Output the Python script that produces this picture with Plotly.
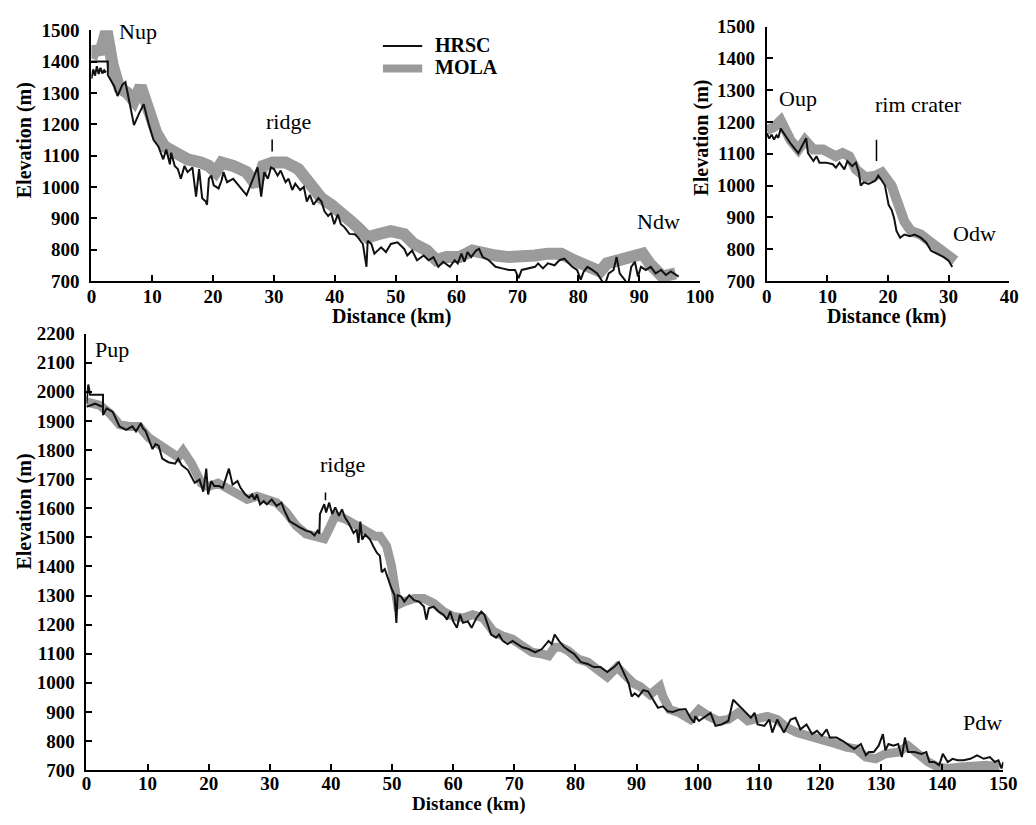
import plotly.graph_objects as go

# ---------------- data ----------------
# Panel N (top-left)
n_hrsc_km = [0.0, 0.3, 0.6, 0.9, 1.2, 1.5, 1.8, 2.1, 2.4, None,
             0.0, 2.7, 2.7, 3.75, 4.3, 5.1, 5.6, 6.4, 7.0, 7.8, 8.6, 9.4, 10.2, 11.0, 11.8, 12.3, 12.9, 13.1,
             13.7, 14.2, 14.7, 15.3, 15.8, 16.6, 17.2, 17.7, 18.2, 18.8, 19.0, 19.3, 19.7, 20.1, 20.9, 21.4,
             21.7, 22.3, 23.3, 25.5, 27.3, 27.9, 28.4, 29.0, 29.5, 30.0, 30.6, 31.1, 31.9, 32.4, 33.0, 33.5,
             34.3, 34.9, 35.4, 35.9, 36.5, 37.3, 37.8, 38.3, 38.9, 39.4, 39.9, 40.5, 41.0, 41.6, 42.4, 43.3,
             43.8, 44.6, 45.2, 45.4, 46.0, 46.5, 47.6, 48.4, 49.2, 50.3, 51.4, 51.9, 52.7, 53.5, 54.6, 55.4,
             56.2, 57.0, 57.8, 58.9, 59.7, 60.2, 60.8, 61.3, 61.8, 62.4, 63.2, 63.7, 64.3, 65.3, 66.4, 67.5,
             68.6, 69.6, 70.2, 70.7, 71.8, 72.9, 73.4, 74.2, 75.0, 76.1, 76.9, 77.7, 78.2, 79.0, 79.8, 80.4,
             80.9, 81.5, 82.3, 83.1, 83.9, 84.4, 85.0, 85.8, 86.3, 86.8, 87.6, 88.2, 88.7, 89.3, 89.8, 90.3,
             91.1, 91.9, 92.7, 93.6, 94.4, 95.2, 96.5]
n_hrsc_m = [1345, 1375, 1355, 1385, 1360, 1380, 1362, 1372, 1365, None,
            1400, 1400, 1357, 1321, 1290, 1326, 1334, 1254, 1197, 1233, 1264, 1202, 1150, 1129, 1088, 1119, 1072, 1109,
            1067, 1057, 1026, 1067, 1047, 1062, 969, 1057, 964, 953, 943, 1026, 1036, 1005, 995, 1021,
            1047, 1015, 1026, 974, 1062, 969, 1047, 1026, 1062, 1057, 1036, 1052, 1015, 1026, 990, 1010,
            990, 1000, 953, 974, 943, 964, 953, 922, 907, 917, 881, 912, 881, 871, 850, 849,
            839, 818, 745, 828, 818, 787, 807, 792, 818, 823, 802, 781, 797, 766, 781, 766,
            776, 745, 761, 745, 766, 756, 787, 761, 792, 776, 797, 802, 776, 766, 745, 740,
            735, 735, 709, 735, 740, 745, 756, 740, 756, 750, 766, 771, 761, 745, 735, 704,
            730, 745, 735, 724, 700, 690, 724, 735, 776, 724, 704, 688, 745, 761, 714, 745,
            735, 745, 724, 735, 719, 730, 714]
n_mola_km = [0.0, 0.7, 1.4, 1.9, 2.5, 3.5, 4.6, 5.9, 7.0, 8.1, 9.4, 10.7, 12.0, 13.7, 15.8, 18.0, 19.3, 20.4,
             21.4, 23.3, 25.5, 27.1, 28.2, 29.8, 31.9, 34.0, 36.2, 37.8, 39.4, 41.0, 42.6, 43.8, 45.4, 47.1,
             49.2, 51.4, 53.0, 55.1, 56.7, 58.3, 60.5, 62.6, 64.3, 66.4, 68.6, 70.7, 72.9, 75.0, 77.2, 79.3,
             81.5, 83.6, 84.7, 86.8, 89.0, 90.6, 91.7, 93.8, 96.0]
n_mola_m = [1410, 1445, 1425, 1460, 1500, 1388, 1316, 1300, 1274, 1321, 1243, 1171, 1129, 1109, 1088, 1078, 1067, 1047,
            1078, 1067, 1047, 1005, 1067, 1078, 1078, 1057, 1005, 964, 943, 922, 891, 870, 839, 849,
            859, 849, 818, 797, 766, 776, 776, 797, 787, 781, 776, 776, 781, 787, 787, 766,
            745, 730, 756, 766, 776, 787, 756, 714, 724]

# Panel O (top-right)
o_hrsc_km = [0.0, 0.4, 0.8, 1.2, 1.6, 1.9, 2.3, 3.9, 5.2, 6.0, 6.5, 6.8, 7.7, 8.2, 8.7, 9.8, 10.9, 11.4, 12.0,
             12.8, 13.3, 14.1, 14.7, 15.2, 15.5, 16.0, 16.8, 17.9, 18.4, 19.0, 19.5, 20.1, 20.6, 21.0, 21.4,
             22.0, 22.7, 23.6, 24.4, 25.4, 26.3, 27.1, 28.1, 29.2, 30.0, 30.6]
o_hrsc_m = [1165, 1148, 1160, 1145, 1158, 1150, 1179, 1133, 1102, 1133, 1149, 1102, 1077, 1092, 1072, 1072, 1067, 1056, 1072,
            1051, 1077, 1061, 1072, 1041, 1000, 1010, 1005, 1015, 1031, 1015, 1000, 939, 923, 898, 857,
            836, 846, 841, 846, 836, 821, 795, 785, 775, 764, 744]
o_mola_km = [0.0, 1.2, 2.3, 3.9, 5.2, 6.3, 7.7, 9.3, 10.4, 11.4, 12.5, 13.6, 14.7, 16.3, 17.9, 19.0, 20.6, 21.9,
             22.7, 23.8, 25.4, 27.1, 28.7, 30.3, 31.1]
o_mola_m = [1174, 1184, 1205, 1143, 1113, 1143, 1113, 1113, 1102, 1092, 1102, 1092, 1051, 1026, 1031, 1041, 1000, 939,
            887, 857, 846, 821, 795, 775, 764]

# Panel P (bottom)
p_hrsc_km = [0.0, 1.4, 2.2, 2.7, None,
             0.0, 0.3, 0.6, 2.7, 2.7, 3.3, 4.3, 5.4, 6.5, 7.5, 8.1, 8.9, 9.2, 9.7, 10.8, 11.3, 11.8, 12.4, 13.4,
             14.5, 15.0, 15.6, 16.6, 17.7, 18.5, 19.1, 19.6, 19.9, 20.4, 20.9, 21.7, 22.3, 23.3, 23.9, 24.7,
             25.2, 26.0, 26.6, 27.1, 27.5, 27.9, 28.4, 29.0, 29.5, 30.3, 31.1, 31.9, 32.4, 33.2, 34.0, 34.9,
             35.9, 36.7, 37.3, 37.8, 38.1, 38.2, 38.9, 39.2, 39.7, 40.2, 40.7, 41.3, 41.8, 42.3, 42.9, 43.7,
             44.2, 44.5, 44.8, 45.1, 45.6, 46.4, 46.9, 47.5, 48.0, 48.3, 48.8, 49.3, 49.9, 50.4, 50.7, 50.9,
             51.5, 52.0, 52.8, 53.6, 54.4, 55.2, 55.6, 56.0, 56.8, 57.6, 58.4, 59.0, 59.5, 60.0, 60.6, 61.1,
             61.6, 62.4, 63.0, 63.8, 64.6, 65.1, 65.7, 66.2, 67.0, 67.5, 68.1, 68.9, 69.7, 70.5, 71.3, 72.3,
             73.4, 74.5, 75.6, 76.1, 76.6, 77.3, 78.2, 79.0, 79.8, 80.9, 82.0, 83.0, 84.1, 85.2, 86.3, 87.1,
             87.9, 88.7, 89.2, 89.7, 90.3, 91.1, 91.9, 92.7, 93.5, 94.3, 95.1, 95.9, 97.0, 98.0, 98.8, 99.4,
             99.6, 100.2, 101.0, 102.1, 102.9, 103.9, 105.0, 105.8, 108.7, 109.3, 109.8, 110.9, 111.7, 112.2,
             113.0, 114.1, 115.2, 116.0, 116.8, 117.8, 118.7, 119.5, 120.3, 121.1, 121.6, 122.7, 123.7, 124.5,
             125.6, 126.7, 127.5, 128.0, 128.8, 129.6, 130.3, 130.7, 131.2, 132.0, 132.8, 133.4, 133.9, 134.4,
             135.5, 136.6, 137.4, 137.9, 138.7, 139.5, 140.1, 140.9, 141.7, 142.5, 143.5, 144.6, 145.7, 146.8,
             147.8, 148.6, 149.2, 149.7, 150.0]
p_hrsc_m = [1948, 1959, 1952, 1948, None,
            1960, 2025, 1990, 1990, 1920, 1943, 1931, 1881, 1869, 1881, 1864, 1892, 1876, 1864, 1803, 1820, 1815, 1770, 1758,
            1753, 1770, 1747, 1731, 1687, 1698, 1657, 1736, 1647, 1693, 1676, 1676, 1670, 1736, 1681, 1693,
            1670, 1647, 1636, 1647, 1630, 1647, 1613, 1624, 1613, 1630, 1608, 1619, 1591, 1556, 1545, 1534,
            1523, 1518, 1506, 1523, 1512, 1580, 1614, 1585, 1619, 1580, 1603, 1574, 1596, 1568, 1548, 1515,
            1526, 1481, 1554, 1492, 1509, 1492, 1470, 1447, 1436, 1380, 1391, 1357, 1324, 1301, 1206, 1301,
            1296, 1279, 1301, 1284, 1279, 1262, 1217, 1256, 1262, 1245, 1234, 1217, 1245, 1211, 1189, 1234,
            1206, 1211, 1189, 1223, 1245, 1234, 1200, 1166, 1155, 1166, 1144, 1133, 1144, 1133, 1122, 1116,
            1105, 1116, 1144, 1133, 1166, 1144, 1122, 1110, 1099, 1071, 1065, 1054, 1054, 1037, 1054, 1071,
            1032, 998, 953, 964, 953, 975, 970, 942, 914, 919, 902, 900, 908, 910, 880, 863,
            885, 869, 880, 897, 852, 857, 869, 942, 880, 897, 857, 852, 874, 829,
            874, 829, 874, 880, 840, 857, 824, 835, 818, 840, 812, 812, 801, 790,
            773, 790, 751, 762, 762, 784, 824, 768, 790, 784, 790, 745, 812, 762,
            762, 756, 762, 728, 728, 717, 756, 728, 739, 734, 734, 739, 751, 739,
            745, 728, 734, 706, 728]
p_mola_km = [0.0, 2.2, 3.8, 5.4, 7.0, 8.6, 10.2, 11.8, 13.4, 15.0, 15.8, 17.2, 18.8, 19.9, 21.5, 23.1, 24.7, 26.3,
             27.9, 29.5, 31.1, 32.7, 34.3, 35.9, 37.5, 38.9, 39.7, 40.7, 42.3, 44.2, 45.6, 47.2, 48.0, 49.1,
             49.9, 50.4, 50.9, 52.0, 53.6, 55.2, 56.8, 58.4, 60.0, 61.6, 63.2, 64.9, 66.5, 68.1, 69.7, 71.3,
             72.9, 74.5, 75.6, 76.6, 77.7, 78.8, 80.4, 82.0, 83.6, 85.2, 86.8, 88.4, 89.5, 90.6, 92.2, 93.8,
             94.3, 95.4, 97.0, 98.8, 100.2, 101.8, 103.4, 105.0, 106.6, 108.2, 109.8, 111.4, 113.0, 114.6,
             116.2, 118.4, 120.5, 122.7, 124.3, 125.9, 127.5, 129.1, 130.7, 132.8, 134.4, 136.1, 137.7, 139.3,
             140.9, 143.0, 145.2, 147.3, 149.4]
p_mola_m = [1965, 1953, 1926, 1887, 1881, 1881, 1842, 1820, 1803, 1775, 1797, 1753, 1686, 1674, 1686, 1669, 1652, 1630,
            1641, 1630, 1619, 1585, 1540, 1512, 1506, 1495, 1529, 1574, 1563, 1540, 1520, 1504, 1504, 1470,
            1402, 1312, 1268, 1279, 1290, 1290, 1273, 1245, 1228, 1223, 1234, 1223, 1178, 1161, 1150, 1127,
            1105, 1099, 1093, 1122, 1122, 1110, 1082, 1071, 1048, 1020, 1054, 1020, 998, 987, 959, 987,
            953, 908, 897, 874, 908, 885, 869, 874, 897, 869, 874, 885, 874, 846,
            829, 818, 807, 790, 779, 773, 745, 739, 756, 762, 784, 751, 728, 711,
            706, 711, 717, 717, 711]

series_names = ["HRSC", "MOLA"]
x_tick_step = 10
y_tick_step = 100

# ---------------- styling ----------------
W, H = 1036, 825
SERIF = "Liberation Serif"
GRAY = "#9b9b9b"
BLACK = "#111111"


def px_x(p):
    return p / W


def px_y(p):
    return 1 - p / H


fig = go.Figure()

panels = [
    ("x", "y", n_hrsc_km, n_hrsc_m, n_mola_km, n_mola_m, 12),
    ("x2", "y2", o_hrsc_km, o_hrsc_m, o_mola_km, o_mola_m, 10),
    ("x3", "y3", p_hrsc_km, p_hrsc_m, p_mola_km, p_mola_m, 9),
]
for xa, ya, hx, hy, mx, my, mw in panels:
    fig.add_trace(go.Scatter(x=mx, y=my, xaxis=xa, yaxis=ya, mode="lines", name=series_names[1],
                             line=dict(color=GRAY, width=mw), showlegend=False))
    fig.add_trace(go.Scatter(x=hx, y=hy, xaxis=xa, yaxis=ya, mode="lines", name=series_names[0],
                             line=dict(color=BLACK, width=2), showlegend=False, connectgaps=False))

tickfont = dict(family=SERIF, size=19, color="black", weight="bold")
axis_common = dict(showline=True, linecolor="black", linewidth=2, ticks="inside", ticklen=6,
                   tickwidth=2, tickcolor="black", showgrid=False, zeroline=False, tickfont=tickfont)
xax = dict(ticklabelstandoff=-3, **axis_common)
xax3 = dict(ticklabelstandoff=-5, **axis_common)
yax = dict(ticklabelstandoff=6, **axis_common)

fig.update_layout(
    width=W, height=H, margin=dict(l=0, r=0, t=0, b=0),
    paper_bgcolor="white", plot_bgcolor="white", showlegend=False,
    xaxis=dict(domain=[px_x(88), px_x(708)], range=[0, 100], dtick=x_tick_step, anchor="y", **xax),
    yaxis=dict(domain=[px_y(278), px_y(20.7)], range=[700, 1500], dtick=y_tick_step, anchor="x", **yax),
    xaxis2=dict(domain=[px_x(776), px_x(1023)], range=[0, 40], dtick=x_tick_step, anchor="y2", **xax),
    yaxis2=dict(domain=[px_y(278), px_y(17)], range=[700, 1500], dtick=y_tick_step, anchor="x2", **yax),
    xaxis3=dict(domain=[px_x(83), px_x(1017)], range=[0, 150], dtick=x_tick_step, anchor="y3", **xax3),
    yaxis3=dict(domain=[px_y(780), px_y(332)], range=[700, 2200], dtick=y_tick_step, anchor="x3", **yax),
)

# legend (drawn as key lines + labels in the top-left panel)
legend_font = dict(family=SERIF, size=20, color="black", weight="bold")
for name, color, width, ypx in [(series_names[0], BLACK, 2, 37), (series_names[1], GRAY, 8, 60)]:
    fig.add_shape(type="line", xref="paper", yref="paper", x0=px_x(385), x1=px_x(425),
                  y0=px_y(ypx), y1=px_y(ypx), line=dict(color=color, width=width))
    fig.add_annotation(text=name, x=px_x(436), y=px_y(ypx - 1), xref="paper", yref="paper",
                       showarrow=False, font=legend_font, xanchor="left", yanchor="middle")

# axis titles
title_font = dict(family=SERIF, size=20, color="black", weight="bold")
for text, x, y, ang, fs in [("Elevation (m)", 20, 134, -90, 20), ("Elevation (m)", 710, 131, -90, 20),
                            ("Elevation (m)", 20, 515, -90, 20), ("Distance (km)", 394, 314, 0, 20),
                            ("Distance (km)", 898, 314, 0, 20), ("Distance (km)", 472, 815, 0, 19)]:
    fig.add_annotation(text=text, x=px_x(x), y=px_y(y), xref="paper", yref="paper", showarrow=False,
                       textangle=ang, font=dict(title_font, size=fs), xanchor="center", yanchor="middle",
                       borderpad=0)

# in-plot labels
label_font = dict(family=SERIF, size=22, color="black")
labels = [("Nup", "x", "y", 7.7, 1495), ("ridge", "x", "y", 32.4, 1210), ("Ndw", "x", "y", 93.1, 890),
          ("Oup", "x2", "y2", 5.1, 1275), ("rim crater", "x2", "y2", 25.1, 1255), ("Odw", "x2", "y2", 34.2, 848),
          ("Pup", "x3", "y3", 4.2, 2145), ("ridge", "x3", "y3", 41.9, 1750), ("Pdw", "x3", "y3", 146.6, 865)]
for text, xr, yr, x, y in labels:
    fig.add_annotation(text=text, x=x, y=y, xref=xr, yref=yr, showarrow=False, font=label_font,
                       xanchor="center", yanchor="middle")

markers = [("x", "y", 29.7, 1151, 1113), ("x2", "y2", 18.1, 1144, 1077), ("x3", "y3", 39.1, 1654, 1627)]
for xr, yr, x, y0, y1 in markers:
    fig.add_shape(type="line", xref=xr, yref=yr, x0=x, x1=x, y0=y0, y1=y1,
                  line=dict(color="black", width=1.5))

fig.write_html("out.html")
